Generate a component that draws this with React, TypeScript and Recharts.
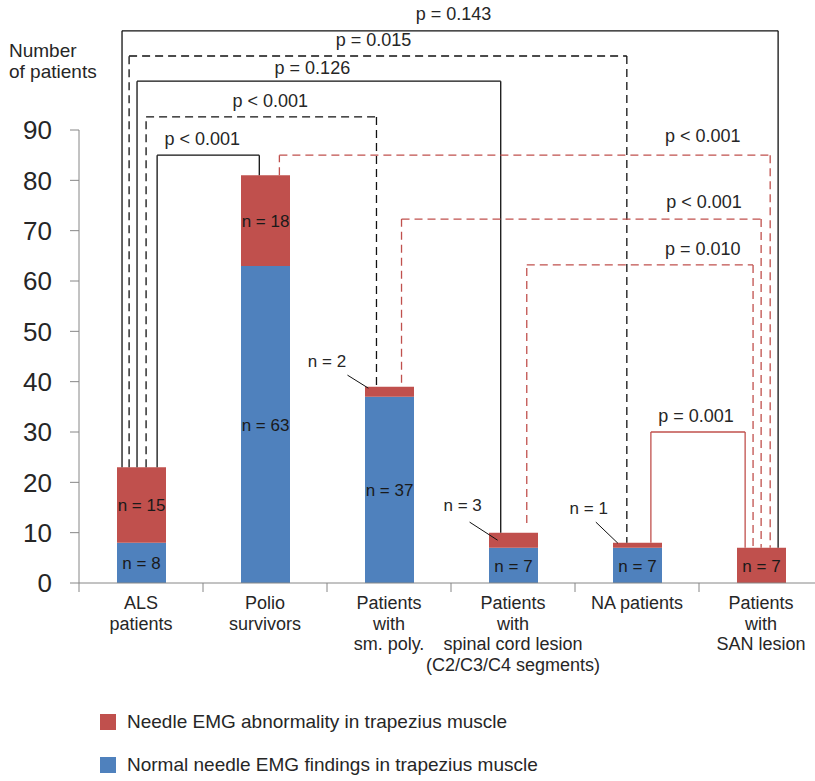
import React from 'react';
import {
  BarChart,
  Bar,
  XAxis,
  YAxis,
  ReferenceLine,
  ReferenceDot,
  LabelList,
  Legend,
} from 'recharts';

const categories = [
  'ALS\npatients',
  'Polio\nsurvivors',
  'Patients\nwith\nsm. poly.',
  'Patients\nwith\nspinal cord lesion\n(C2/C3/C4 segments)',
  'NA patients',
  'Patients\nwith\nSAN lesion',
];
const normalCounts = [8, 63, 37, 7, 7, 0];
const abnormalCounts = [15, 18, 2, 3, 1, 7];
const yTicks = [0, 10, 20, 30, 40, 50, 60, 70, 80, 90];

const abnormalName = 'Needle EMG abnormality in trapezius muscle';
const normalName = 'Normal needle EMG findings in trapezius muscle';

// comparison brackets: x in group units (0 = left edge of first group), y in patients
const comparisons = [
  { p: 'p = 0.143', fromX: 0.347, fromY: 23, toX: 5.638, toY: 7, top: 109.7, textX: 3.02, textY: 113.2, vs: 'ALS', dashed: false },
  { p: 'p = 0.015', fromX: 0.404, fromY: 23, toX: 4.418, toY: 8, top: 104.7, textX: 2.375, textY: 107.9, vs: 'ALS', dashed: true },
  { p: 'p = 0.126', fromX: 0.468, fromY: 23, toX: 3.401, toY: 10, top: 99.7, textX: 1.882, textY: 102.3, vs: 'ALS', dashed: false },
  { p: 'p < 0.001', fromX: 0.541, fromY: 23, toX: 2.399, toY: 39, top: 92.6, textX: 1.543, textY: 95.9, vs: 'ALS', dashed: true },
  { p: 'p < 0.001', fromX: 0.63, fromY: 23, toX: 1.454, toY: 81, top: 85.0, textX: 0.994, textY: 88.3, vs: 'ALS', dashed: false },
  { p: 'p < 0.001', fromX: 1.616, fromY: 81, toX: 5.574, toY: 7, top: 85.0, textX: 5.03, textY: 88.8, vs: 'SAN', dashed: true },
  { p: 'p < 0.001', fromX: 2.601, fromY: 39.8, toX: 5.501, toY: 7, top: 72.3, textX: 5.04, textY: 75.7, vs: 'SAN', dashed: true },
  { p: 'p = 0.010', fromX: 3.611, fromY: 11.9, toX: 5.436, toY: 7, top: 63.2, textX: 5.03, textY: 66.5, vs: 'SAN', dashed: true },
  { p: 'p = 0.001', fromX: 4.612, fromY: 8, toX: 5.372, toY: 7, top: 30.0, textX: 4.976, textY: 33.2, vs: 'SAN', dashed: false },
];

// small abnormal counts labelled outside the bar with a leader line
const calloutTexts = ['n = 2', 'n = 3', 'n = 1'];
const calloutAt = [
  { x: 2.0, y: 44.1 },
  { x: 3.094, y: 15.5 },
  { x: 4.111, y: 14.9 },
];
const calloutLeaders = [
  { x1: 2.165, y1: 41.3, x2: 2.334, y2: 38.7 },
  { x1: 3.15, y1: 12.1, x2: 3.376, y2: 8.5 },
  { x1: 4.168, y1: 12.1, x2: 4.346, y2: 7.9 },
];

const data = categories.map((name, i) => ({
  name,
  pos: i + 0.5,
  normal: normalCounts[i],
  abnormal: abnormalCounts[i],
}));

const FONT = '"Liberation Sans", Arial, sans-serif';
const TEXT = '#262626';
const AXIS = '#868686';
const RED = '#C0504D';
const BLUE = '#4F81BD';

const CHART_W = 823;
const CHART_H = 781;
const Y_AXIS_W = 79;
const HALF_BAND = (CHART_W - Y_AXIS_W) / categories.length / 2;

function CategoryTick(props: any) {
  const { x, y, payload } = props;
  const lines = String(payload.value).split('\n');
  return (
    <g>
      <line x1={x - HALF_BAND} y1={y} x2={x - HALF_BAND} y2={y + 9} stroke={AXIS} />
      <text x={x} y={y + 26} textAnchor="middle" fontSize={18} fill={TEXT} fontFamily={FONT}>
        {lines.map((line, i) => (
          <tspan key={i} x={x} dy={i === 0 ? 0 : 20.5}>
            {line}
          </tspan>
        ))}
      </text>
    </g>
  );
}

function AxisTitle(props: any) {
  const { viewBox } = props;
  return (
    <text x={9} fontSize={19} fill={TEXT} fontFamily={FONT}>
      <tspan x={9} y={viewBox.y - 73}>Number</tspan>
      <tspan x={9} y={viewBox.y - 52}>of patients</tspan>
    </text>
  );
}

function inBarLabel(minValue: number) {
  return (props: any) => {
    const { x, y, width, height, value } = props;
    if (value < minValue) return null;
    return (
      <text
        x={x + width / 2}
        y={y + height / 2}
        dy="0.36em"
        textAnchor="middle"
        fontSize={17}
        fill="#1a1a1a"
        fontFamily={FONT}
      >
        {`n = ${value}`}
      </text>
    );
  };
}

function LegendBox() {
  const items = [
    { name: abnormalName, color: RED },
    { name: normalName, color: BLUE },
  ];
  return (
    <div
      style={{
        height: 90,
        boxSizing: 'border-box',
        paddingTop: 20,
        fontFamily: FONT,
        fontSize: 19,
        color: TEXT,
      }}
    >
      {items.map((item, i) => (
        <div
          key={item.name}
          style={{ display: 'flex', alignItems: 'center', height: 22, marginTop: i === 0 ? 0 : 21 }}
        >
          <span style={{ display: 'inline-block', width: 16, height: 16, background: item.color, marginRight: 11 }} />
          <span>{item.name}</span>
        </div>
      ))}
    </div>
  );
}

export default function App() {
  return (
    <div
      style={{
        position: 'absolute',
        left: 0,
        top: 0,
        width: 815,
        height: 781,
        overflow: 'hidden',
        background: '#fff',
      }}
    >
      <BarChart
        width={CHART_W}
        height={CHART_H}
        data={data}
        margin={{ top: 130, right: 0, left: 0, bottom: 8 }}
      >
        <XAxis
          dataKey="name"
          interval={0}
          height={100}
          stroke={AXIS}
          tickLine={false}
          tickSize={0}
          tickMargin={0}
          tick={<CategoryTick />}
        />
        <XAxis
          xAxisId="pos"
          dataKey="pos"
          type="number"
          domain={[0, categories.length]}
          allowDataOverflow
          hide
        />
        <YAxis
          width={Y_AXIS_W}
          domain={[0, 90]}
          ticks={yTicks}
          stroke={AXIS}
          tickSize={9}
          tickMargin={18}
          tick={{ fill: TEXT, fontSize: 26, fontFamily: FONT }}
          label={AxisTitle}
        />
        <Legend
          verticalAlign="bottom"
          content={<LegendBox />}
          wrapperStyle={{ left: 100, bottom: 0, width: 600, height: 90 }}
        />
        <Bar dataKey="normal" name={normalName} stackId="a" fill={BLUE} barSize={49} isAnimationActive={false}>
          <LabelList dataKey="normal" content={inBarLabel(1)} />
        </Bar>
        <Bar dataKey="abnormal" name={abnormalName} stackId="a" fill={RED} barSize={49} isAnimationActive={false}>
          <LabelList dataKey="abnormal" content={inBarLabel(5)} />
        </Bar>

        {comparisons.map((c, i) => {
          const color = c.vs === 'ALS' ? '#111' : RED;
          const dash = c.dashed ? '8 5' : undefined;
          const common = {
            xAxisId: 'pos',
            stroke: color,
            strokeWidth: 1.3,
            strokeDasharray: dash,
            ifOverflow: 'visible' as const,
          };
          return [
            <ReferenceLine key={`a${i}`} {...common} segment={[{ x: c.fromX, y: c.fromY }, { x: c.fromX, y: c.top }]} />,
            <ReferenceLine key={`b${i}`} {...common} segment={[{ x: c.fromX, y: c.top }, { x: c.toX, y: c.top }]} />,
            <ReferenceLine key={`c${i}`} {...common} segment={[{ x: c.toX, y: c.top }, { x: c.toX, y: c.toY }]} />,
          ];
        })}
        {comparisons.map((c, i) => (
          <ReferenceDot
            key={`p${i}`}
            xAxisId="pos"
            x={c.textX}
            y={c.textY}
            r={0}
            stroke="none"
            fill="none"
            ifOverflow="visible"
            label={{ value: c.p, position: 'center', fill: TEXT, fontSize: 18, fontFamily: FONT }}
          />
        ))}

        {calloutLeaders.map((l, i) => (
          <ReferenceLine
            key={`l${i}`}
            xAxisId="pos"
            stroke="#111"
            strokeWidth={1}
            ifOverflow="visible"
            segment={[{ x: l.x1, y: l.y1 }, { x: l.x2, y: l.y2 }]}
          />
        ))}
        {calloutAt.map((c, i) => (
          <ReferenceDot
            key={`n${i}`}
            xAxisId="pos"
            x={c.x}
            y={c.y}
            r={0}
            stroke="none"
            fill="none"
            ifOverflow="visible"
            label={{ value: calloutTexts[i], position: 'center', fill: TEXT, fontSize: 17, fontFamily: FONT }}
          />
        ))}
      </BarChart>
    </div>
  );
}
